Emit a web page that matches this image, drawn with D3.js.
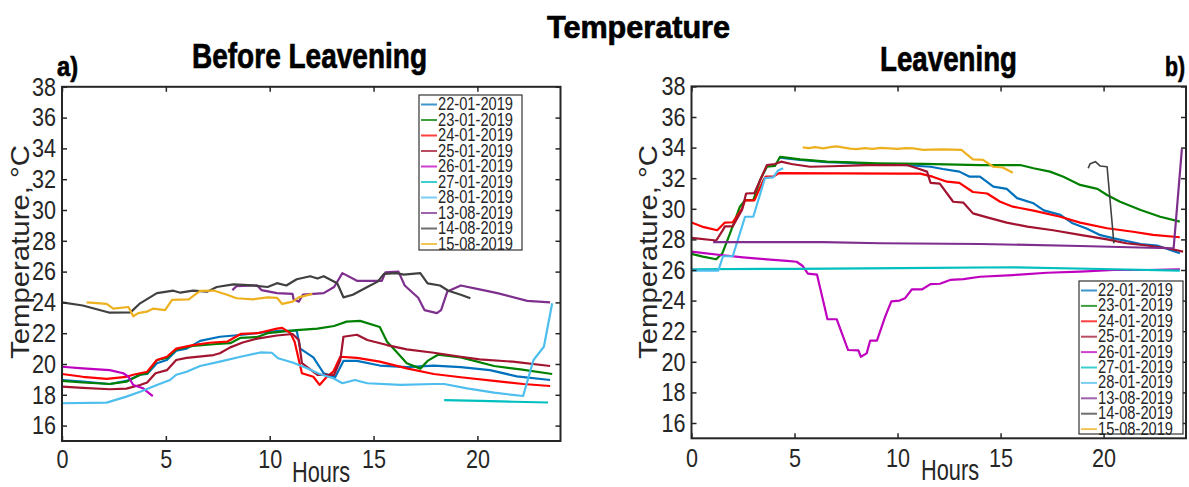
<!DOCTYPE html>
<html>
<head>
<meta charset="utf-8">
<script src="https://cdn.jsdelivr.net/npm/d3@7"></script>
<style>
  body { margin: 0; background: #fff; }
  svg text { font-family: "Liberation Sans Narrow", "Arial Narrow", "Liberation Sans", sans-serif; fill: #262626; }
  .title { font-weight: bold; fill: #000; stroke: #000; stroke-width: 0.7px; }
</style>
</head>
<body>
<div id="chart"></div>
<script>
// dates shown in both legends
var dates = ["22-01-2019", "23-01-2019", "24-01-2019", "25-01-2019", "26-01-2019",
             "27-01-2019", "28-01-2019", "13-08-2019", "14-08-2019", "15-08-2019"];
var colors = ["#0072BD", "#008000", "#FF0000", "#A2142F", "#BF00BF",
              "#00BFBF", "#4DBEEE", "#7E2F8E", "#404040", "#EDB120"];

var xTicks = [0, 5, 10, 15, 20];
var yTicks = [16, 18, 20, 22, 24, 26, 28, 30, 32, 34, 36, 38];

// a) before leavening  [hours, temperature]
var b2201 = [[0,18.95],[1,18.85],[2.3,18.7],[3.1,18.9],[3.76,19.3],[4.1,19.35],[4.57,20.05],[5.05,20.26],[5.5,20.86],[6,21.0],[6.65,21.5],[7.6,21.77],[8.7,21.9],[9.9,22.08],[10.5,22.16],[11.3,22.16],[11.47,21.0],[12.1,20.43],[12.6,19.4],[13.15,19.14],[13.55,20.2],[14.2,20.2],[15.3,19.9],[16.6,19.8],[17.9,19.9],[19.2,19.8],[20.6,19.6],[21.9,19.2],[23.5,18.96]];
var b2301 = [[0,18.9],[1,18.8],[2.3,18.7],[3.1,18.85],[3.76,19.3],[4.1,19.4],[4.57,20.26],[5.05,20.4],[5.5,20.95],[6.3,21.17],[7.45,21.3],[8.1,21.35],[8.6,21.7],[9.4,21.75],[9.9,22.0],[11.3,22.2],[12.3,22.3],[13.1,22.47],[13.7,22.75],[14.35,22.8],[15.3,22.4],[15.65,21.45],[16.1,20.8],[16.6,20.05],[17.25,19.7],[17.6,20.2],[18.1,20.6],[19.2,20.43],[20.8,19.87],[22.07,19.65],[23.6,19.35]];
var b2401 = [[0,19.35],[1,19.17],[2.15,19.03],[3.1,19.17],[3.43,19.3],[4.1,19.5],[4.57,20.26],[5.05,20.47],[5.5,21.0],[6.3,21.23],[7.1,21.38],[7.95,21.45],[8.6,21.95],[9.4,22.0],[10.35,22.3],[10.6,22.35],[11.0,22.0],[11.2,21.45],[11.55,19.4],[12.1,19.17],[12.4,18.64],[12.75,19.17],[13.06,19.5],[13.4,20.47],[14.2,20.4],[15.3,20.15],[16.6,19.72],[17.9,19.35],[19.2,19.14],[20.8,18.9],[22.2,18.7],[23.5,18.57]];
var b2501 = [[0,18.53],[1,18.45],[2.3,18.36],[3.1,18.4],[3.76,18.64],[4.1,18.8],[4.5,19.4],[5.05,19.6],[5.5,20.26],[6.0,20.4],[7.3,20.58],[7.6,20.7],[8.1,21.08],[8.7,21.4],[9.4,21.65],[10.35,21.85],[11.1,21.95],[11.4,21.56],[11.55,20.05],[12.3,19.3],[13.1,19.3],[13.4,20.26],[13.55,21.77],[14.2,21.9],[14.7,21.56],[15.65,21.23],[16.6,20.95],[17.9,20.73],[19.2,20.47],[20.1,20.3],[21.7,20.15],[23.5,19.87]];
var b2601 = [[0,19.82],[1,19.72],[2.3,19.6],[2.95,19.4],[3.2,19.17],[3.43,18.64],[3.9,18.42],[4.37,17.92]];
var b2701 = [[18.4,17.66],[20.15,17.6],[21.75,17.55],[23.4,17.5]];
var b2801 = [[0,17.45],[2.15,17.49],[3.1,17.88],[3.76,18.2],[4.57,18.64],[5.2,18.96],[5.5,19.3],[6.0,19.5],[6.65,19.87],[7.6,20.15],[8.6,20.47],[9.55,20.75],[10.1,20.73],[10.4,20.37],[11.1,20.1],[11.8,19.72],[12.4,19.35],[13.06,19.07],[13.5,18.75],[14.1,18.96],[14.7,18.75],[16.3,18.64],[17.9,18.7],[18.4,18.7],[19.5,18.42],[20.8,18.14],[22.2,17.92],[22.7,20.26],[23.2,21.12],[23.6,23.94]];
var b1308 = [[8.2,24.8],[8.4,25.05],[9.4,25.1],[9.6,24.8],[10.35,24.6],[11.1,24.55],[11.15,24.2],[11.4,24.05],[11.6,24.5],[12.6,24.6],[13.1,25.0],[13.5,25.9],[14.2,25.4],[15.4,25.4],[15.57,25.95],[16.2,26.0],[16.5,25.1],[17.15,24.3],[17.45,23.5],[18.05,23.3],[18.25,23.5],[18.55,24.7],[19.2,25.1],[20.1,24.85],[20.96,24.6],[22.4,24.1],[23.5,24.0]];
var b1408 = [[0,24.0],[1,23.8],[2.3,23.33],[3.3,23.35],[3.76,23.94],[4.57,24.6],[5.36,24.76],[5.7,24.63],[6.3,24.76],[7.0,24.7],[7.45,25.0],[8.25,25.17],[9.2,25.1],[9.9,25.0],[10.35,25.25],[10.8,25.1],[11.3,25.5],[11.95,25.7],[12.3,25.55],[12.6,25.7],[13.25,25.24],[13.55,24.33],[14.0,24.5],[14.7,25.0],[15.2,25.35],[15.5,25.85],[16.1,25.9],[16.45,25.8],[17.25,25.9],[17.6,25.24],[18.2,25.1],[18.6,24.76],[19.2,24.5],[19.66,24.27]];
var b1508 = [[1.19,24.0],[2.15,23.9],[2.47,23.6],[3.2,23.7],[3.43,23.1],[3.67,23.3],[4.08,23.4],[4.4,23.6],[4.96,23.5],[5.3,24.16],[6.1,24.2],[6.65,24.75],[7.3,24.77],[7.95,24.5],[8.4,24.27],[9.2,24.2],[9.9,24.33],[10.35,24.3],[10.6,23.9],[11.1,24.05],[11.4,24.33],[12.05,24.55]];

// b) leavening  [hours, temperature]
var l2201 = [[4.3,33.35],[4.6,33.3],[5.27,33.2],[6.57,33.05],[7.7,33.0],[9.0,32.9],[10.1,32.88],[11.6,32.75],[12.2,32.6],[13.0,32.43],[13.5,32.1],[14.0,32.1],[14.65,31.45],[15.3,31.3],[15.8,30.7],[16.6,30.36],[17.1,29.9],[17.9,29.6],[18.5,29.05],[19.2,28.7],[19.8,28.3],[20.5,28.07],[21.8,27.7],[22.6,27.6],[23.7,27.1]];
var l2301 = [[0,27.05],[0.55,26.87],[1.2,26.7],[1.5,27.1],[1.87,28.4],[2.35,30.14],[2.6,30.57],[3.0,30.57],[3.33,31.88],[3.66,32.75],[4.05,32.8],[4.3,33.4],[4.6,33.35],[5.27,33.23],[6.57,33.08],[7.7,33.03],[9.0,32.97],[11.25,32.93],[14.0,32.85],[15.95,32.86],[16.6,32.65],[17.4,32.43],[18.05,32.1],[18.86,31.56],[19.7,31.3],[20.17,30.9],[20.8,30.46],[21.8,29.92],[22.75,29.48],[23.7,29.16]];
var l2401 = [[0,29.1],[0.6,28.8],[1.25,28.6],[1.62,29.1],[2.0,29.12],[2.45,30.0],[2.6,30.55],[3.05,30.55],[3.5,31.9],[3.6,32.1],[3.95,32.1],[4.25,32.33],[10.1,32.3],[11.1,32.3],[11.7,32.1],[12.4,31.77],[13.0,31.7],[13.66,31.1],[14.35,31.0],[14.98,30.46],[15.6,30.14],[16.6,29.88],[17.9,29.48],[18.86,29.1],[20.17,28.73],[21.43,28.5],[22.4,28.3],[23.7,28.14]];
var l2501 = [[0,28.1],[1.2,27.93],[1.52,28.6],[1.62,28.85],[2.0,28.85],[2.45,29.92],[2.65,31.0],[3.05,31.02],[3.66,32.86],[4.05,32.93],[4.35,33.08],[4.85,32.93],[5.75,32.75],[6.8,32.78],[8.5,32.86],[10.45,32.86],[10.95,32.65],[11.43,32.43],[11.6,31.7],[12.05,31.65],[12.7,30.46],[13.2,30.4],[13.66,29.7],[14.35,29.44],[15.3,29.1],[16.3,28.83],[17.55,28.6],[18.86,28.3],[20.17,28.0],[21.1,27.75],[22.1,27.6],[23.1,27.42],[23.86,27.2]];
var l2601 = [[0,27.2],[1.4,26.98],[2.5,26.83],[3.66,26.7],[4.63,26.6],[5.1,26.54],[5.4,26.26],[5.65,25.76],[6.09,25.7],[6.6,22.78],[7.05,22.78],[7.6,20.77],[8.1,20.75],[8.22,20.33],[8.5,20.55],[8.67,21.38],[9.0,21.38],[9.4,22.95],[9.7,23.95],[10.1,24.0],[10.36,24.15],[10.7,24.74],[11.2,24.74],[11.6,25.08],[12.06,25.1],[12.55,25.35],[13.2,25.4],[14.0,25.56],[15.6,25.67],[17.25,25.82],[18.86,25.9],[20.5,26.0],[22.1,26.0],[23.7,26.05]];
var l2701 = [[0,26.05],[5,26.08],[10.1,26.12],[15.6,26.18],[20.5,26.05],[23.7,25.96]];
var l2801 = [[0,25.96],[1.3,25.96],[1.53,26.9],[2.0,26.9],[2.6,29.48],[3.0,29.48],[3.56,32.0],[3.96,32.05],[4.2,32.5],[4.45,32.65]];
var l1308 = [[1.05,27.82],[6.4,27.82],[9.15,27.75],[14.0,27.7],[18.86,27.57],[23.2,27.42],[23.4,27.42],[23.8,33.9]];
var l1408 = [[19.25,32.65],[19.35,32.95],[19.6,33.08],[19.83,32.8],[20.17,32.75],[20.5,27.75]];
var l1508 = [[5.4,34.02],[5.7,33.97],[6.0,34.03],[6.4,33.95],[6.8,34.05],[7.05,34.08],[7.4,34.0],[7.7,33.93],[8.0,33.9],[8.4,33.97],[8.8,33.92],[9.2,33.98],[9.6,33.95],[10.0,33.92],[10.4,33.97],[10.77,33.95],[11.25,33.85],[11.6,33.87],[12.2,33.88],[13.1,33.85],[13.66,33.23],[14.15,33.2],[14.65,32.75],[15.1,32.7],[15.6,32.36]];

var beforeSeries = [b2201, b2301, b2401, b2501, b2601, b2701, b2801, b1308, b1408, b1508];
var leavenSeries = [l2201, l2301, l2401, l2501, l2601, l2701, l2801, l1308, l1408, l1508];

var svgWidth = 1189;
var svgHeight = 487;

var svg = d3.select("#chart")
  .append("svg")
  .attr("width", svgWidth)
  .attr("height", svgHeight);

// panel boxes in pixels
var panels = [
  { left: 62, right: 560.5, top: 86.8, bottom: 441, series: beforeSeries,
    legend: { x: 419, y: 95, w: 103, h: 155, row: 15.5 },
    ylab: 29, hours: { x: 321, y: 482 }, tickPad: 9 },
  { left: 691.5, right: 1186, top: 86.4, bottom: 438.3, series: leavenSeries,
    legend: { x: 1079, y: 281, w: 104, h: 153, row: 15.4 },
    ylab: 657, hours: { x: 950, y: 480 }, tickPad: 10 }
];

panels.forEach(function(p) {
  var x = d3.scaleLinear().domain([0, 24]).range([p.left, p.right]);
  var y = d3.scaleLinear().domain([15, 38]).range([p.bottom, p.top]);

  var g = svg.append("g");

  // lines
  var line = d3.line().x(d => x(d[0])).y(d => y(d[1]));
  p.series.forEach(function(s, i) {
    g.append("path")
      .datum(s)
      .attr("d", line)
      .attr("fill", "none")
      .attr("stroke", colors[i])
      .attr("stroke-width", i === 8 && p.series === leavenSeries ? 1.6 : 2.2)
      .attr("stroke-linejoin", "round");
  });

  // axes, ticks pointing inward
  g.append("g")
    .attr("transform", `translate(0,${p.bottom})`)
    .call(d3.axisBottom(x).tickValues(xTicks).tickSize(-5).tickSizeOuter(0).tickPadding(p.tickPad));
  g.append("g")
    .attr("transform", `translate(0,${p.top})`)
    .call(d3.axisTop(x).tickValues(xTicks).tickSize(-5).tickSizeOuter(0).tickFormat(""));
  g.append("g")
    .attr("transform", `translate(${p.left},0)`)
    .call(d3.axisLeft(y).tickValues(yTicks).tickSize(-5).tickSizeOuter(0).tickPadding(6));
  g.append("g")
    .attr("transform", `translate(${p.right},0)`)
    .call(d3.axisRight(y).tickValues(yTicks).tickSize(-5).tickSizeOuter(0).tickFormat(""));

  g.selectAll(".domain").remove();
  g.selectAll(".tick line").attr("stroke", "#262626").attr("stroke-width", 1.5);
  g.selectAll(".tick text")
    .attr("font-size", "26px")
    .attr("fill", "#262626")
    .attr("textLength", function() { return this.textContent.length * 12; })
    .attr("lengthAdjust", "spacingAndGlyphs");

  g.append("rect")
    .attr("x", p.left).attr("y", p.top)
    .attr("width", p.right - p.left).attr("height", p.bottom - p.top)
    .attr("fill", "none").attr("stroke", "#262626").attr("stroke-width", 2);

  // y label
  g.append("text")
    .attr("transform", `translate(${p.ylab},252) rotate(-90)`)
    .attr("text-anchor", "middle")
    .attr("font-size", "26px")
    .attr("textLength", 214)
    .attr("lengthAdjust", "spacingAndGlyphs")
    .text("Temperature, °C");

  // x label
  g.append("text")
    .attr("x", p.hours.x).attr("y", p.hours.y)
    .attr("text-anchor", "middle")
    .attr("font-size", "29px")
    .attr("textLength", 58)
    .attr("lengthAdjust", "spacingAndGlyphs")
    .text("Hours");

  // legend
  var lg = g.append("g");
  lg.append("rect")
    .attr("x", p.legend.x).attr("y", p.legend.y)
    .attr("width", p.legend.w).attr("height", p.legend.h)
    .attr("fill", "#fff").attr("stroke", "#333").attr("stroke-width", 1.2);
  dates.forEach(function(d, i) {
    var cy = p.legend.y + 8.5 + i * p.legend.row;
    lg.append("line")
      .attr("x1", p.legend.x + 2).attr("x2", p.legend.x + 18)
      .attr("y1", cy + 1).attr("y2", cy + 1)
      .attr("stroke", colors[i]).attr("stroke-width", 2).attr("opacity", 0.75);
    lg.append("text")
      .attr("x", p.legend.x + 19).attr("y", cy + 6.5)
      .attr("font-size", "18px")
      .attr("textLength", 75)
      .attr("lengthAdjust", "spacingAndGlyphs")
      .attr("fill", "#000")
      .text(d);
  });
});

// titles
function title(txt, x, y, size, len) {
  svg.append("text")
    .attr("class", "title")
    .attr("x", x).attr("y", y)
    .attr("font-size", size + "px")
    .attr("textLength", len)
    .attr("lengthAdjust", "spacingAndGlyphs")
    .text(txt);
}
title("Temperature", 547, 38, 32, 183);
title("Before Leavening", 192, 68, 35, 235);
title("Leavening", 880, 71, 35, 137);
title("a)", 57, 76, 27, 21);
title("b)", 1165, 76, 27, 20);
</script>
</body>
</html>
